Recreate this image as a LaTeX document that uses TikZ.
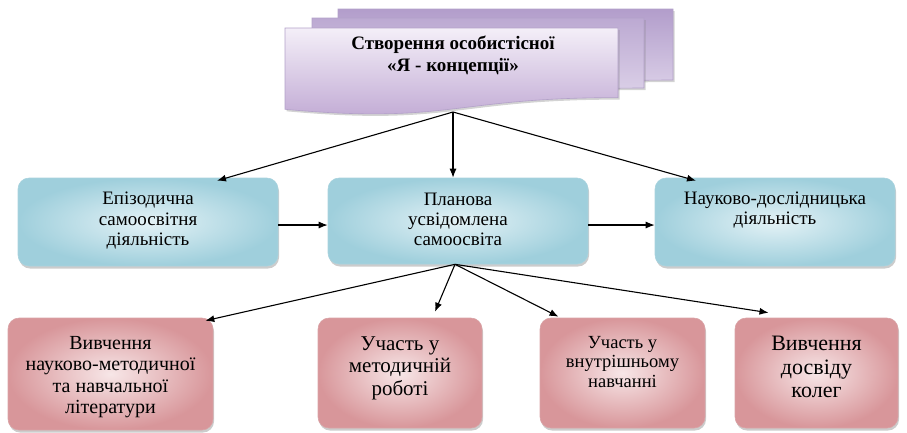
\documentclass[tikz,border=0pt]{standalone}
\usepackage{fontspec}
\setmainfont{Liberation Serif}
\newfontfamily\serf{Liberation Serif}
\usetikzlibrary{shadows,arrows.meta}
\definecolor{bluein}{HTML}{E4F2F6}
\definecolor{blueout}{HTML}{9FCFDC}
\definecolor{blueline}{HTML}{A9D3DE}
\definecolor{pinkin}{HTML}{F7E6E7}
\definecolor{pinkout}{HTML}{D8969A}
\definecolor{pinkline}{HTML}{D9A3A6}
\definecolor{purtop}{HTML}{F4EFF8}
\definecolor{purbot}{HTML}{BEA6D2}
\definecolor{purback}{HTML}{B29DCB}
\definecolor{purbackl}{HTML}{E4DBEE}
\definecolor{purline}{HTML}{B3A1C9}
\tikzset{
  box/.style={rounded corners=11pt, inner sep=0pt, align=center,
    drop shadow={opacity=0.4, shadow xshift=1pt, shadow yshift=-2.5pt}},
  bluebox/.style={box, shade, inner color=bluein, outer color=blueout, draw=blueline, line width=0.6pt},
  pinkbox/.style={box, shade, inner color=pinkin, outer color=pinkout, draw=pinkline, line width=0.6pt},
  txt/.style={align=center, inner sep=0pt},
  arr/.style={-{Latex[length=9pt,width=7pt]}, line width=1.1pt, black},
  doc/.style={draw=purline, line width=0.6pt,
    drop shadow={opacity=0.35, shadow xshift=1.5pt, shadow yshift=-2pt}},
}
\begin{document}
\begin{tikzpicture}[x=1pt,y=-1pt]
\useasboundingbox (0,0) rectangle (907,432);
% multi-document shape
\path[doc, top color=purback, bottom color=purbackl]
  (338,9) -- (673,9) -- (673,80) .. controls (505,80) and (505,107) .. (338,94) -- cycle;
\path[doc, top color=purback!80!purbackl, bottom color=purbackl]
  (312,18) -- (644,18) -- (644,88) .. controls (478,88) and (478,115) .. (312,100) -- cycle;
\path[doc, top color=purtop, bottom color=purbot]
  (285,28) -- (618,28) -- (618,97.6) .. controls (451.5,97.6) and (451.5,124.3) .. (285,109.3) -- cycle;
\node[txt, font=\serf\fontsize{19}{22}\selectfont\bfseries] (top) at (453,55) {Створення особистісної\\«Я - концепції»};
\coordinate (topb) at (453,112);

% blue boxes
\node[bluebox, minimum width=260pt, minimum height=88pt] (b1) at (148,222) {};
\node[txt, font=\serf\fontsize{19}{20.5}\selectfont] (b1t) at (148,221) {Епізодична\\самоосвітня\\діяльність};
\node[bluebox, minimum width=260pt, minimum height=86pt] (b2) at (458,221) {};
\node[txt, font=\serf\fontsize{19}{20}\selectfont] (b2t) at (458,219) {Планова\\усвідомлена\\самоосвіта};
\node[bluebox, minimum width=240pt, minimum height=88pt] (b3) at (775,222) {};
\node[txt, font=\serf\fontsize{19}{20}\selectfont] (b3t) at (775,210) {Науково-дослідницька\\діяльність};

% pink boxes
\node[pinkbox, minimum width=205pt, minimum height=112pt] (p1) at (110.5,374) {};
\node[txt, font=\serf\fontsize{20}{21.5}\selectfont] (p1t) at (110.5,377) {Вивчення\\науково-методичної\\та навчальної\\літератури};
\node[pinkbox, minimum width=164pt, minimum height=110pt] (p2) at (400,373) {};
\node[txt, font=\serf\fontsize{21}{22.5}\selectfont] (p2t) at (400,368) {Участь у\\методичній\\роботі};
\node[pinkbox, minimum width=165pt, minimum height=110pt] (p3) at (622.5,373) {};
\node[txt, font=\serf\fontsize{18.5}{19.5}\selectfont] (p3t) at (622.5,362) {Участь у\\внутрішньому\\навчанні};
\node[pinkbox, minimum width=163pt, minimum height=110pt] (p4) at (816.5,373) {};
\node[txt, font=\serf\fontsize{22}{23.5}\selectfont] (p4t) at (816.5,367) {Вивчення\\досвіду\\колег};

% arrows from top
\draw[arr] (topb) -- ([xshift=69pt,yshift=-3pt]b1.north);
\draw[arr] (topb) -- ([xshift=-5pt]b2.north);
\draw[arr] (topb) -- ([xshift=-79pt,yshift=-3pt]b3.north);
% horizontal
\draw[arr] (b1.east |- 0,225) -- (b2.west |- 0,225);
\draw[arr] (b2.east |- 0,225) -- (b3.west |- 0,225);
% arrows down
\coordinate (b2s) at ([xshift=-3pt]b2.south);
\draw[arr] (b2s) -- ([xshift=-8pt,yshift=-3pt]p1.north east);
\draw[arr] (b2s) -- ([xshift=35pt,yshift=6pt]p2.north);
\draw[arr] (b2s) -- ([xshift=-64pt,yshift=1pt]p3.north);
\draw[arr] (b2s) -- ([xshift=-48pt,yshift=5pt]p4.north);
\end{tikzpicture}
\end{document}
